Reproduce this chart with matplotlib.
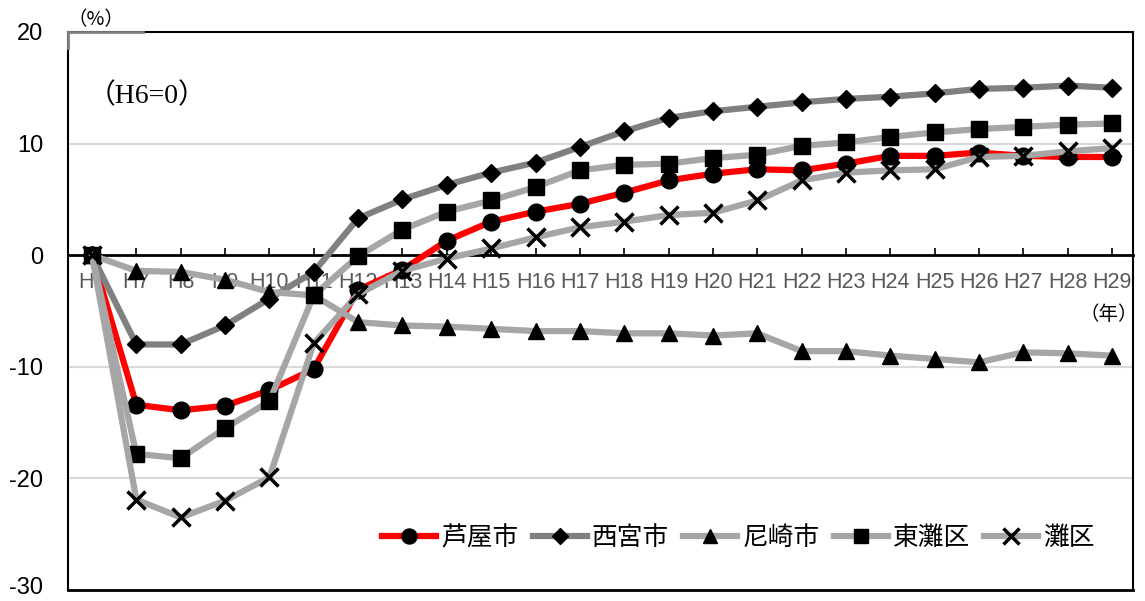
import numpy as np
import matplotlib.pyplot as plt
from matplotlib.lines import Line2D
from matplotlib.transforms import ScaledTranslation

plt.rcParams['font.family'] = ['Liberation Sans', 'Noto Sans CJK JP', 'DejaVu Sans']
plt.rcParams['axes.unicode_minus'] = False

years = ['H6', 'H7', 'H8', 'H9', 'H10', 'H11', 'H12', 'H13', 'H14', 'H15', 'H16', 'H17',
         'H18', 'H19', 'H20', 'H21', 'H22', 'H23', 'H24', 'H25', 'H26', 'H27', 'H28', 'H29']

ashiya = [0, -13.4, -13.9, -13.5, -12.1, -10.2, -3.1, -1.3, 1.3, 3.0, 3.9, 4.6,
          5.6, 6.7, 7.3, 7.7, 7.6, 8.2, 8.9, 8.9, 9.2, 8.9, 8.8, 8.8]
nishinomiya = [0, -8.0, -8.0, -6.3, -3.9, -1.5, 3.3, 5.0, 6.3, 7.4, 8.3, 9.7,
               11.1, 12.3, 12.9, 13.3, 13.7, 14.0, 14.2, 14.5, 14.9, 15.0, 15.2, 15.0]
amagasaki = [0, -1.4, -1.5, -2.2, -3.3, -3.6, -6.0, -6.3, -6.4, -6.6, -6.8, -6.8,
             -7.0, -7.0, -7.2, -7.0, -8.6, -8.6, -9.0, -9.3, -9.6, -8.7, -8.8, -9.0]
higashinada = [0, -17.8, -18.2, -15.5, -13.1, -3.6, -0.1, 2.3, 3.9, 4.9, 6.1, 7.6,
               8.1, 8.2, 8.7, 9.0, 9.8, 10.1, 10.6, 11.0, 11.3, 11.5, 11.7, 11.8]
nada = [0, -21.9, -23.5, -22.0, -19.9, -7.9, -3.5, -1.4, -0.3, 0.6, 1.6, 2.5,
        3.0, 3.6, 3.8, 4.9, 6.7, 7.4, 7.6, 7.7, 8.8, 8.9, 9.3, 9.6]

names = ['芦屋市', '西宮市', '尼崎市', '東灘区', '灘区']
series = [ashiya, nishinomiya, amagasaki, higashinada, nada]
colors = ['#FF0000', '#808080', '#A6A6A6', '#A6A6A6', '#A6A6A6']
markers = ['o', 'D', '^', 's', 'x']
msizes = [12, 9, 11, 11, 13]

x = np.arange(len(years))

fig = plt.figure(figsize=(11.45, 6.01), dpi=100)
ax = fig.add_axes([0.0594, 0.0183, 0.9301, 0.9285])

for y in [10, -10, -20]:
    ax.axhline(y, color='#D9D9D9', lw=1.5, zorder=0)

handles = []
for vals, name, c, m, ms in zip(series, names, colors, markers, msizes):
    ax.plot(x, vals, color=c, lw=4.5, marker=m, ms=ms, mfc='black', mec='black',
            mew=2.5 if m == 'x' else 1, label=name, zorder=3)
    handles.append(Line2D([], [], color=c, lw=4.5, marker=m, ms=ms * 0.9,
                          mfc='black', mec='black', mew=2.5 if m == 'x' else 1))

ax.set_xlim(-0.54, 23.47)
ax.set_ylim(-30, 20)
ax.set_yticks([-30, -20, -10, 0, 10, 20])
ax.set_xticks(x)
ax.set_xticklabels(years)

ax.spines['bottom'].set_position(('data', 0))
ax.spines['bottom'].set_linewidth(2)
for s in ['left', 'right', 'top']:
    ax.spines[s].set_linewidth(1.5)
ax.axhline(-30, color='black', lw=2, clip_on=False)
# grey stub at the top left corner
ax.plot([-0.54, 1.15], [20, 20], color='#7F7F7F', lw=2, clip_on=False, zorder=5)
ax.plot([-0.54, -0.54], [18.6, 20], color='#7F7F7F', lw=2, clip_on=False, zorder=5)

ax.tick_params(axis='x', direction='in', length=5, width=1.2, pad=12,
               labelsize=15.5, labelcolor='#595959')
ax.tick_params(axis='y', length=0, pad=18, labelsize=17)

# nudge the bottom "-30" label up a little so it stays inside the picture
lab = ax.get_yticklabels()[0]
lab.set_transform(lab.get_transform() + ScaledTranslation(0, 3 / 72, fig.dpi_scale_trans))

fig.text(0.059, 0.968, '（%）', fontsize=14, ha='left', va='center',
         family=['Noto Sans CJK JP'])
ax.text(0.018, 0.885, '（H6=0）', transform=ax.transAxes, fontsize=20,
        family=['Liberation Serif', 'Noto Sans CJK JP'], ha='left', va='center')
fig.text(0.968, 0.476, '（年）', fontsize=14, ha='center', va='center',
         family=['Noto Sans CJK JP'])

fig.legend(handles, names, loc='center', bbox_to_anchor=(0.645, 0.105), ncol=5,
           frameon=False, prop={'family': 'Noto Sans CJK JP', 'size': 18.5},
           handlelength=2.1, handletextpad=0.2, columnspacing=0.55)

plt.savefig('out.png', dpi=100)
